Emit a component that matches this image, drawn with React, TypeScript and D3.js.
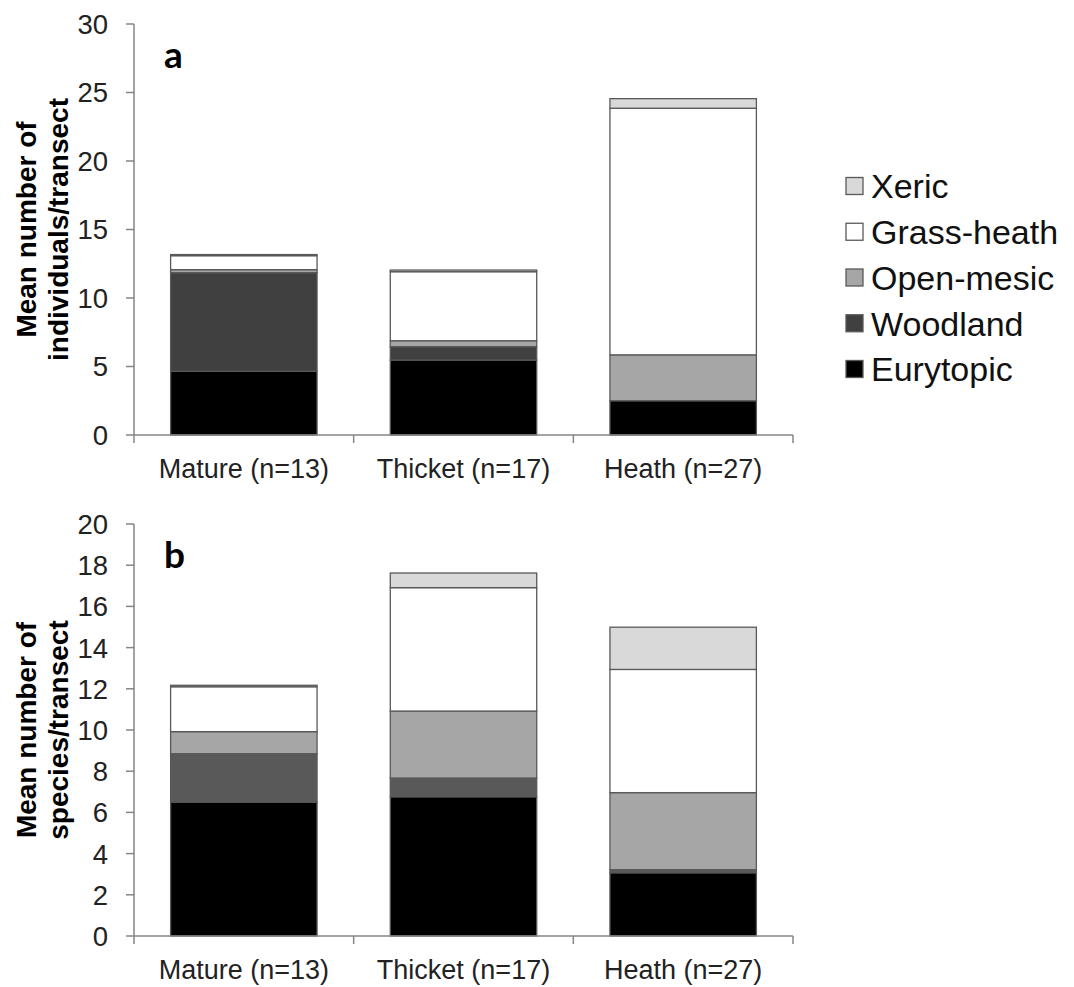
import React from "react";
import * as d3 from "d3";

const categories = ["Mature (n=13)", "Thicket (n=17)", "Heath (n=27)"];
const seriesNames = ["Eurytopic", "Woodland", "Open-mesic", "Grass-heath", "Xeric"];
const legendOrder = ["Xeric", "Grass-heath", "Open-mesic", "Woodland", "Eurytopic"];

// Panel a: mean number of individuals/transect
const aEurytopic = [4.65, 5.47, 2.5];
const aWoodland = [7.2, 0.98, 0.0];
const aOpenMesic = [0.22, 0.43, 3.35];
const aGrassHeath = [1.02, 5.04, 18.0];
const aXeric = [0.08, 0.12, 0.7];

// Panel b: mean number of species/transect
const bEurytopic = [6.5, 6.76, 3.07];
const bWoodland = [2.35, 0.91, 0.15];
const bOpenMesic = [1.07, 3.25, 3.74];
const bGrassHeath = [2.18, 5.99, 5.98];
const bXeric = [0.07, 0.71, 2.05];

const aTicks = [0, 5, 10, 15, 20, 25, 30];
const bTicks = [0, 2, 4, 6, 8, 10, 12, 14, 16, 18, 20];

const colorsA: Record<string, string> = {
  Eurytopic: "#000000",
  Woodland: "#404040",
  "Open-mesic": "#a6a6a6",
  "Grass-heath": "#ffffff",
  Xeric: "#d9d9d9",
};
const colorsB: Record<string, string> = { ...colorsA, Woodland: "#595959" };

const FONT = "'Liberation Sans', Arial, sans-serif";
const AXIS = "#868686";
const X0 = 134;
const X1 = 793;

type PanelProps = {
  series: number[][];
  ticks: number[];
  maxY: number;
  top: number;
  bottom: number;
  letter: string;
  title: [string, string];
  colors: Record<string, string>;
};

function Panel({ series, ticks, maxY, top, bottom, letter, title, colors }: PanelProps) {
  const x = d3.scaleBand<string>().domain(categories).range([X0, X1]).paddingInner(1 / 3).paddingOuter(1 / 6);
  const y = d3.scaleLinear().domain([0, maxY]).range([bottom, top]);
  const rows = categories.map((c, i) => {
    const r: any = { cat: c };
    seriesNames.forEach((s, k) => (r[s] = series[k][i]));
    return r;
  });
  const stack = d3.stack<any>().keys(seriesNames)(rows);
  const step = x.step();
  const midY = (top + bottom) / 2;
  return (
    <g>
      {stack.map((layer) => (
        <g key={layer.key}>
          {layer.map((d, i) =>
            d[1] - d[0] > 0 ? (
              <rect
                key={i}
                x={x(categories[i])!}
                width={x.bandwidth()}
                y={y(d[1])}
                height={y(d[0]) - y(d[1])}
                fill={colors[layer.key]}
                stroke="#595959"
                strokeWidth={1.3}
              />
            ) : null
          )}
        </g>
      ))}
      {/* y axis */}
      <line x1={X0} x2={X0} y1={top} y2={bottom} stroke={AXIS} strokeWidth={1.5} />
      {ticks.map((t) => (
        <g key={t}>
          <line x1={X0 - 8} x2={X0} y1={y(t)} y2={y(t)} stroke={AXIS} strokeWidth={1.5} />
          <text x={X0 - 26} y={y(t)} dy="0.36em" textAnchor="end" fontFamily={FONT} fontSize={27.5} fill="#222">
            {t}
          </text>
        </g>
      ))}
      {/* x axis */}
      <line x1={X0} x2={X1} y1={bottom} y2={bottom} stroke={AXIS} strokeWidth={1.5} />
      {[0, 1, 2, 3].map((k) => (
        <line key={k} x1={X0 + k * step} x2={X0 + k * step} y1={bottom} y2={bottom + 8} stroke={AXIS} strokeWidth={1.5} />
      ))}
      {categories.map((c) => (
        <text key={c} x={x(c)! + x.bandwidth() / 2} y={bottom + 43} textAnchor="middle" fontFamily={FONT} fontSize={27} fill="#222">
          {c}
        </text>
      ))}
      <text x={164} y={top + 44} fontFamily="Lato, 'Open Sans', sans-serif" fontWeight="bold" fontSize={37} fill="#000">
        {letter}
      </text>
      <text transform={`translate(26,${midY}) rotate(-90)`} textAnchor="middle" dy="0.35em" fontFamily={FONT} fontWeight="bold" fontSize={28} fill="#000">
        {title[0]}
      </text>
      <text transform={`translate(58,${midY}) rotate(-90)`} textAnchor="middle" dy="0.35em" fontFamily={FONT} fontWeight="bold" fontSize={28} fill="#000">
        {title[1]}
      </text>
    </g>
  );
}

export default function App() {
  const legendY = d3.scalePoint<string>().domain(legendOrder).range([186, 369]);
  return (
    <svg width={1074} height={987} style={{ position: "absolute", left: 0, top: 0, background: "#fff" }}>
      <rect width={1074} height={987} fill="#fff" />
      <Panel
        series={[aEurytopic, aWoodland, aOpenMesic, aGrassHeath, aXeric]}
        ticks={aTicks}
        maxY={30}
        top={24}
        bottom={435}
        letter="a"
        title={["Mean number of", "individuals/transect"]}
        colors={colorsA}
      />
      <Panel
        series={[bEurytopic, bWoodland, bOpenMesic, bGrassHeath, bXeric]}
        ticks={bTicks}
        maxY={20}
        top={524}
        bottom={936}
        letter="b"
        title={["Mean number of", "species/transect"]}
        colors={colorsB}
      />
      {legendOrder.map((s) => (
        <g key={s} transform={`translate(0,${legendY(s)})`}>
          <rect x={846} y={-8.5} width={17} height={17} fill={colorsA[s]} stroke="#595959" strokeWidth={1.3} />
          <text x={871} y={0} dy="0.36em" fontFamily={FONT} fontSize={34} fill="#111">
            {s}
          </text>
        </g>
      ))}
    </svg>
  );
}
